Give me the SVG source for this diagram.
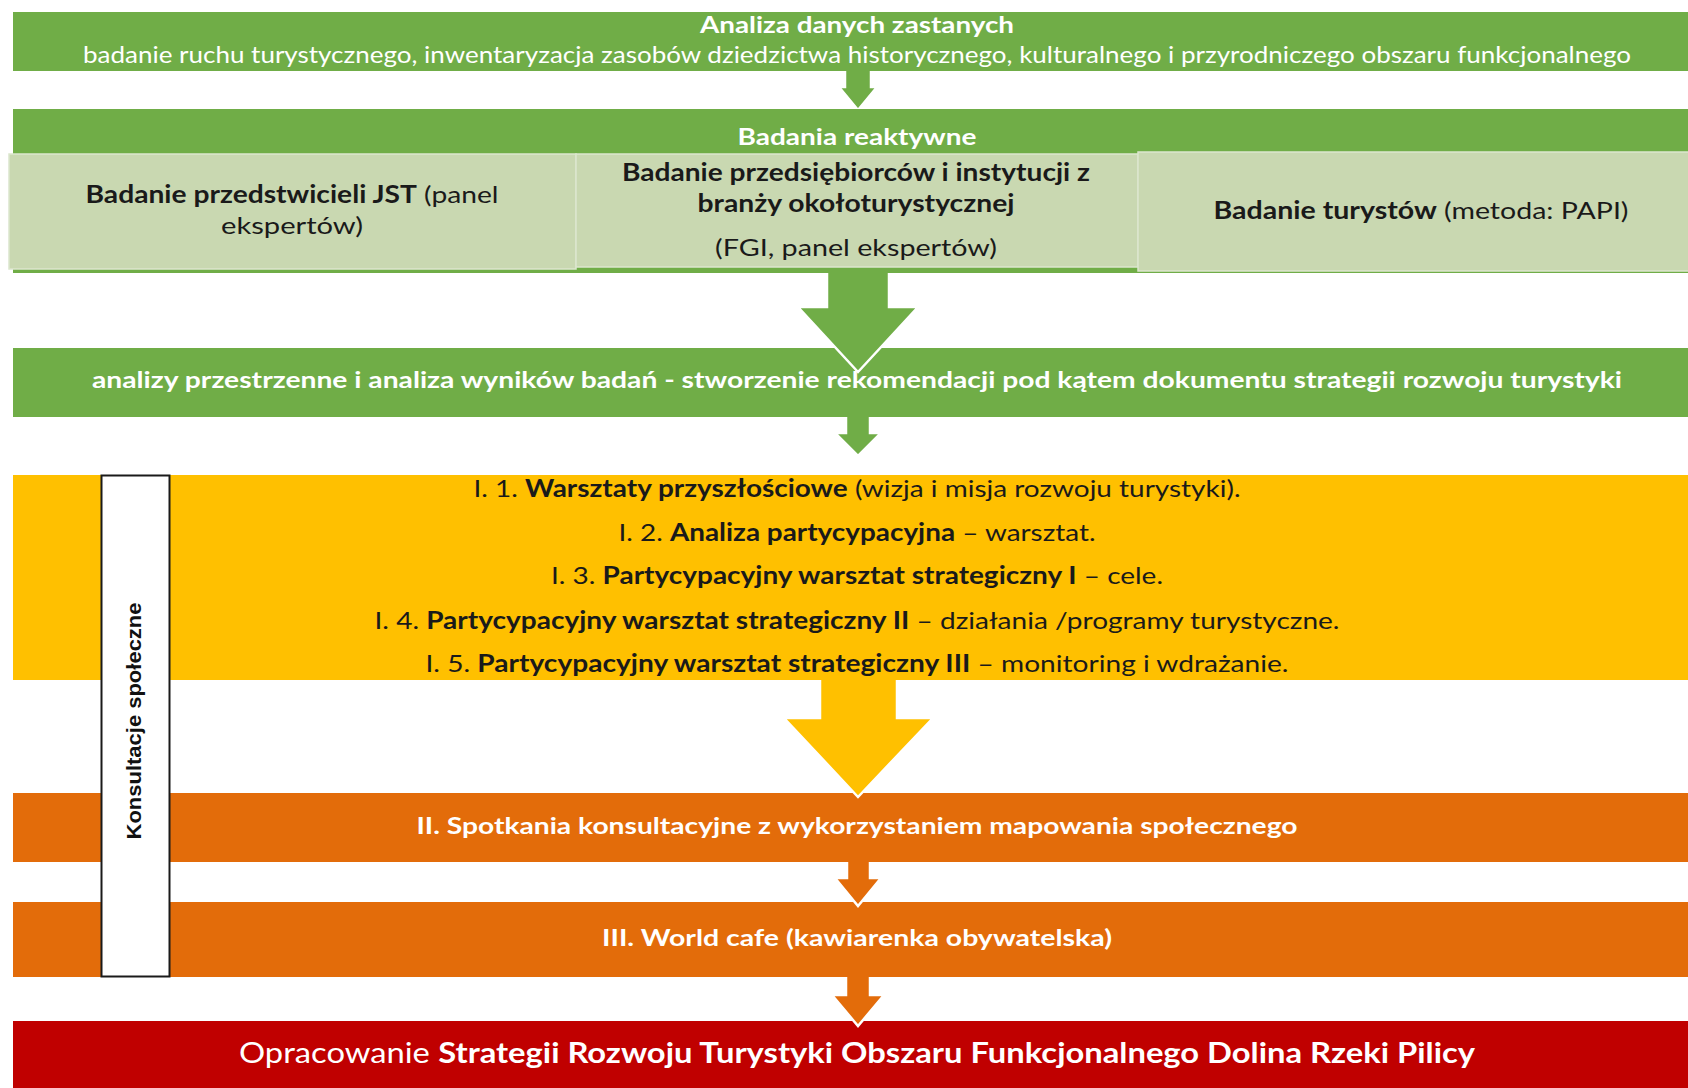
<svg xmlns="http://www.w3.org/2000/svg" width="1688" height="1088" viewBox="0 0 1688 1088">
<style>
.t{font-family:Lato,"Open Sans","Liberation Sans",sans-serif;text-anchor:middle}
.w{fill:#ffffff}
.d{fill:#1a1a1a}
.b{font-weight:bold}
.g{fill:#70AD47}
.lg{fill:#C9D8B1;stroke:#DCE6CE;stroke-width:1.5}
.arr{stroke:#ffffff;stroke-width:2.5;stroke-linejoin:miter}
</style>
<rect x="0" y="0" width="1688" height="1088" fill="#ffffff"/>
<g id="n1">
<rect class="g" x="13" y="12" width="1675" height="59"/>
<text class="t w b" x="857" y="33" font-size="22" textLength="314" lengthAdjust="spacingAndGlyphs">Analiza danych zastanych</text>
<text class="t w" x="857" y="63" font-size="23" textLength="1548" lengthAdjust="spacingAndGlyphs">badanie ruchu turystycznego, inwentaryzacja zasobów dziedzictwa historycznego, kulturalnego i przyrodniczego obszaru funkcjonalnego</text>
</g>
<g id="n3">
<rect class="g" x="13" y="348" width="1675" height="69"/>
<text class="t w b" x="857" y="388" font-size="23" textLength="1530" lengthAdjust="spacingAndGlyphs">analizy przestrzenne i analiza wyników badań - stworzenie rekomendacji pod kątem dokumentu strategii rozwoju turystyki</text>
</g>
<g id="n4">
<rect x="13" y="475" width="1675" height="205" fill="#FFC000"/>
<text class="t d" x="857" y="497" font-size="24" textLength="767" lengthAdjust="spacingAndGlyphs">I. 1. <tspan class="b">Warsztaty przyszłościowe</tspan> (wizja i misja rozwoju turystyki).</text>
<text class="t d" x="857" y="541" font-size="24" textLength="477" lengthAdjust="spacingAndGlyphs">I. 2. <tspan class="b">Analiza partycypacyjna</tspan> – warsztat.</text>
<text class="t d" x="857" y="584" font-size="24" textLength="612" lengthAdjust="spacingAndGlyphs">I. 3. <tspan class="b">Partycypacyjny warsztat strategiczny I</tspan> – cele.</text>
<text class="t d" x="857" y="629" font-size="24" textLength="965" lengthAdjust="spacingAndGlyphs">I. 4. <tspan class="b">Partycypacyjny warsztat strategiczny II</tspan> – działania /programy turystyczne.</text>
<text class="t d" x="857" y="672" font-size="24" textLength="863" lengthAdjust="spacingAndGlyphs">I. 5. <tspan class="b">Partycypacyjny warsztat strategiczny III</tspan> – monitoring i wdrażanie.</text>
</g>
<g id="n5">
<rect x="13" y="793" width="1675" height="69" fill="#E36C0A"/>
<text class="t w b" x="857" y="834" font-size="23" textLength="881" lengthAdjust="spacingAndGlyphs">II. Spotkania konsultacyjne z wykorzystaniem mapowania społecznego</text>
</g>
<g id="n6">
<rect x="13" y="902" width="1675" height="75" fill="#E36C0A"/>
<text class="t w b" x="857" y="946" font-size="23" textLength="510" lengthAdjust="spacingAndGlyphs">III. World cafe (kawiarenka obywatelska)</text>
</g>
<g id="n7">
<rect x="13" y="1021" width="1675" height="67" fill="#C00000"/>
<text class="t w" x="857" y="1063" font-size="28" textLength="1236" lengthAdjust="spacingAndGlyphs">Opracowanie <tspan class="b">Strategii Rozwoju Turystyki Obszaru Funkcjonalnego Dolina Rzeki Pilicy</tspan></text>
</g>
<g id="connectors">
<path class="arr" fill="#70AD47" d="M845,71 L845,87 L839,87 L858,110 L877,87 L871,87 L871,71"/>
<path class="arr" fill="#70AD47" d="M827,273 L827,307 L798,307 L858,372 L918,307 L889,307 L889,273"/>
<path class="arr" fill="#70AD47" d="M846,417 L846,433 L835,433 L858,456 L881,433 L870,433 L870,417"/>
<path class="arr" fill="#FFC000" d="M820,680 L820,718 L784,718 L858,797 L933,718 L897,718 L897,680"/>
<path class="arr" fill="#E36C0A" d="M847,862 L847,878 L835,878 L858,906 L881,878 L870,878 L870,862"/>
<path class="arr" fill="#E36C0A" d="M846,977 L846,995 L832,995 L858,1026 L884,995 L870,995 L870,977"/>
</g>
<g id="n2">
<rect class="g" x="13" y="109" width="1675" height="164"/>
<text class="t w b" x="857" y="145" font-size="22" textLength="239" lengthAdjust="spacingAndGlyphs">Badania reaktywne</text>
<g id="n2a">
<rect class="lg" x="9" y="154" width="567" height="115"/>
<text class="t d" x="292" y="203" font-size="24" textLength="413" lengthAdjust="spacingAndGlyphs"><tspan class="b">Badanie przedstwicieli JST</tspan> (panel</text>
<text class="t d" x="292" y="234" font-size="24" textLength="142" lengthAdjust="spacingAndGlyphs">ekspertów)</text>
</g>
<g id="n2b">
<rect class="lg" x="576" y="154" width="562" height="113"/>
<text class="t d b" x="856" y="181" font-size="24" textLength="468" lengthAdjust="spacingAndGlyphs">Badanie przedsiębiorców i instytucji z</text>
<text class="t d b" x="856" y="212" font-size="24" textLength="317" lengthAdjust="spacingAndGlyphs">branży okołoturystycznej</text>
<text class="t d" x="856" y="256" font-size="24" textLength="282" lengthAdjust="spacingAndGlyphs">(FGI, panel ekspertów)</text>
</g>
<g id="n2c">
<rect class="lg" x="1138" y="152" width="552" height="119"/>
<text class="t d" x="1421" y="219" font-size="24" textLength="415" lengthAdjust="spacingAndGlyphs"><tspan class="b">Badanie turystów</tspan> (metoda: PAPI)</text>
</g>
</g>
<g id="n8">
<rect x="101.5" y="475.5" width="68" height="501" fill="#ffffff" stroke="#1a1a1a" stroke-width="2"/>
<text transform="translate(141,721) rotate(-90)" font-family="'Liberation Sans',Arial,sans-serif" font-weight="bold" font-size="20" text-anchor="middle" fill="#111" textLength="237" lengthAdjust="spacingAndGlyphs">Konsultacje społeczne</text>
</g>
</svg>
